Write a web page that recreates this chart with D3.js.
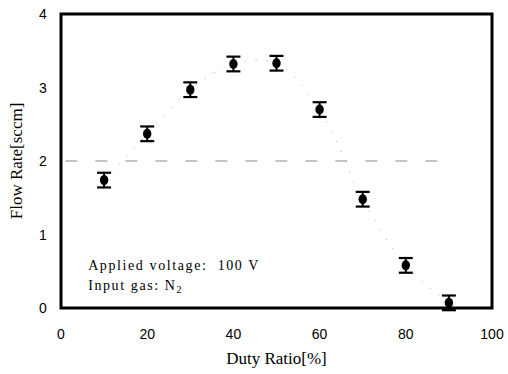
<!DOCTYPE html>
<html>
<head>
<meta charset="utf-8">
<script src="https://cdn.jsdelivr.net/npm/d3@7"></script>
<style>
  body { margin: 0; background: #fff; }
  svg { display: block; }
</style>
</head>
<body>
<svg id="chart" width="508" height="374"></svg>
<script>
// data
const dutyRatio = [10, 20, 30, 40, 50, 60, 70, 80, 90];
const flowRate = [1.74, 2.37, 2.97, 3.32, 3.33, 2.70, 1.48, 0.58, 0.07];
const flowErr = [0.1, 0.1, 0.1, 0.1, 0.1, 0.1, 0.1, 0.1, 0.1];
const xTicks = [0, 20, 40, 60, 80, 100];
const yTicks = [0, 1, 2, 3, 4];
const refLevel = 2;

const margin = { top: 14, right: 16, bottom: 66, left: 61 };
const svg = d3.select('#chart');
const width = 508 - margin.left - margin.right;
const height = 374 - margin.top - margin.bottom;

const x = d3.scaleLinear().domain([0, 100]).range([0, width]);
const y = d3.scaleLinear().domain([0, 4]).range([height, 0]);

const g = svg.append('g').attr('transform', `translate(${margin.left},${margin.top})`);

// reference dashed line at 2 sccm
g.append('line')
  .attr('x1', x(1)).attr('x2', x(88))
  .attr('y1', y(refLevel)).attr('y2', y(refLevel))
  .attr('stroke', '#888')
  .attr('stroke-width', 1)
  .attr('stroke-dasharray', '12,18');

// faint dotted trend curve
const pts = dutyRatio.map((d, i) => [d, flowRate[i]]);
const line = d3.line()
  .x(d => x(d[0]))
  .y(d => y(d[1]))
  .curve(d3.curveCatmullRom.alpha(0.5));
g.append('path')
  .datum(pts)
  .attr('d', line)
  .attr('fill', 'none')
  .attr('stroke', '#aaa')
  .attr('stroke-width', 1)
  .attr('stroke-dasharray', '1,10');

// error bars
const cap = 7;
const bars = g.selectAll('.err').data(pts).enter().append('g').attr('class', 'err');
bars.append('line')
  .attr('x1', d => x(d[0])).attr('x2', d => x(d[0]))
  .attr('y1', (d, i) => y(d[1] + flowErr[i]))
  .attr('y2', (d, i) => y(d[1] - flowErr[i]))
  .attr('stroke', '#000').attr('stroke-width', 2);
bars.append('line')
  .attr('x1', d => x(d[0]) - cap).attr('x2', d => x(d[0]) + cap)
  .attr('y1', (d, i) => y(d[1] + flowErr[i]))
  .attr('y2', (d, i) => y(d[1] + flowErr[i]))
  .attr('stroke', '#000').attr('stroke-width', 2.2);
bars.append('line')
  .attr('x1', d => x(d[0]) - cap).attr('x2', d => x(d[0]) + cap)
  .attr('y1', (d, i) => y(d[1] - flowErr[i]))
  .attr('y2', (d, i) => y(d[1] - flowErr[i]))
  .attr('stroke', '#000').attr('stroke-width', 2.2);

// markers
g.selectAll('.pt').data(pts).enter().append('ellipse')
  .attr('cx', d => x(d[0]))
  .attr('cy', d => y(d[1]))
  .attr('rx', 4.2).attr('ry', 5)
  .attr('fill', '#000');

// frame
g.append('rect')
  .attr('x', 0).attr('y', 0)
  .attr('width', width).attr('height', height)
  .attr('fill', 'none')
  .attr('stroke', '#000')
  .attr('stroke-width', 3);

// tick labels
const tickFont = 'Liberation Sans, Arial, sans-serif';
g.selectAll('.xt').data(xTicks).enter().append('text')
  .attr('x', d => x(d))
  .attr('y', height + 31)
  .attr('text-anchor', 'middle')
  .style('font-family', tickFont)
  .style('font-size', '14px')
  .text(d => d);
g.selectAll('.yt').data(yTicks).enter().append('text')
  .attr('x', -18)
  .attr('y', d => y(d) + 5)
  .attr('text-anchor', 'middle')
  .style('font-family', tickFont)
  .style('font-size', '14px')
  .text(d => d);

// axis titles
const serif = 'Liberation Serif, Times New Roman, serif';
svg.append('text')
  .attr('x', margin.left + width / 2)
  .attr('y', 364)
  .attr('text-anchor', 'middle')
  .style('font-family', serif)
  .style('font-size', '17px')
  .text('Duty Ratio[%]');
svg.append('text')
  .attr('transform', `translate(22,${margin.top + height / 2}) rotate(-90)`)
  .attr('text-anchor', 'middle')
  .style('font-family', serif)
  .style('font-size', '17px')
  .text('Flow Rate[sccm]');

// annotation
const note = g.append('text')
  .attr('x', x(6.3)).attr('y', y(0.52))
  .style('font-family', serif)
  .style('font-size', '14px')
  .style('letter-spacing', '1.6px')
  .style('white-space', 'pre')
  .text('Applied voltage:  100 V');
const l2 = g.append('text')
  .attr('x', x(6.3)).attr('y', y(0.24))
  .style('font-family', serif)
  .style('font-size', '14px')
  .style('letter-spacing', '1.6px');
l2.append('tspan').text('Input gas: N');
l2.append('tspan').attr('dy', 3).style('font-size', '10px').text('2');
</script>
</body>
</html>
